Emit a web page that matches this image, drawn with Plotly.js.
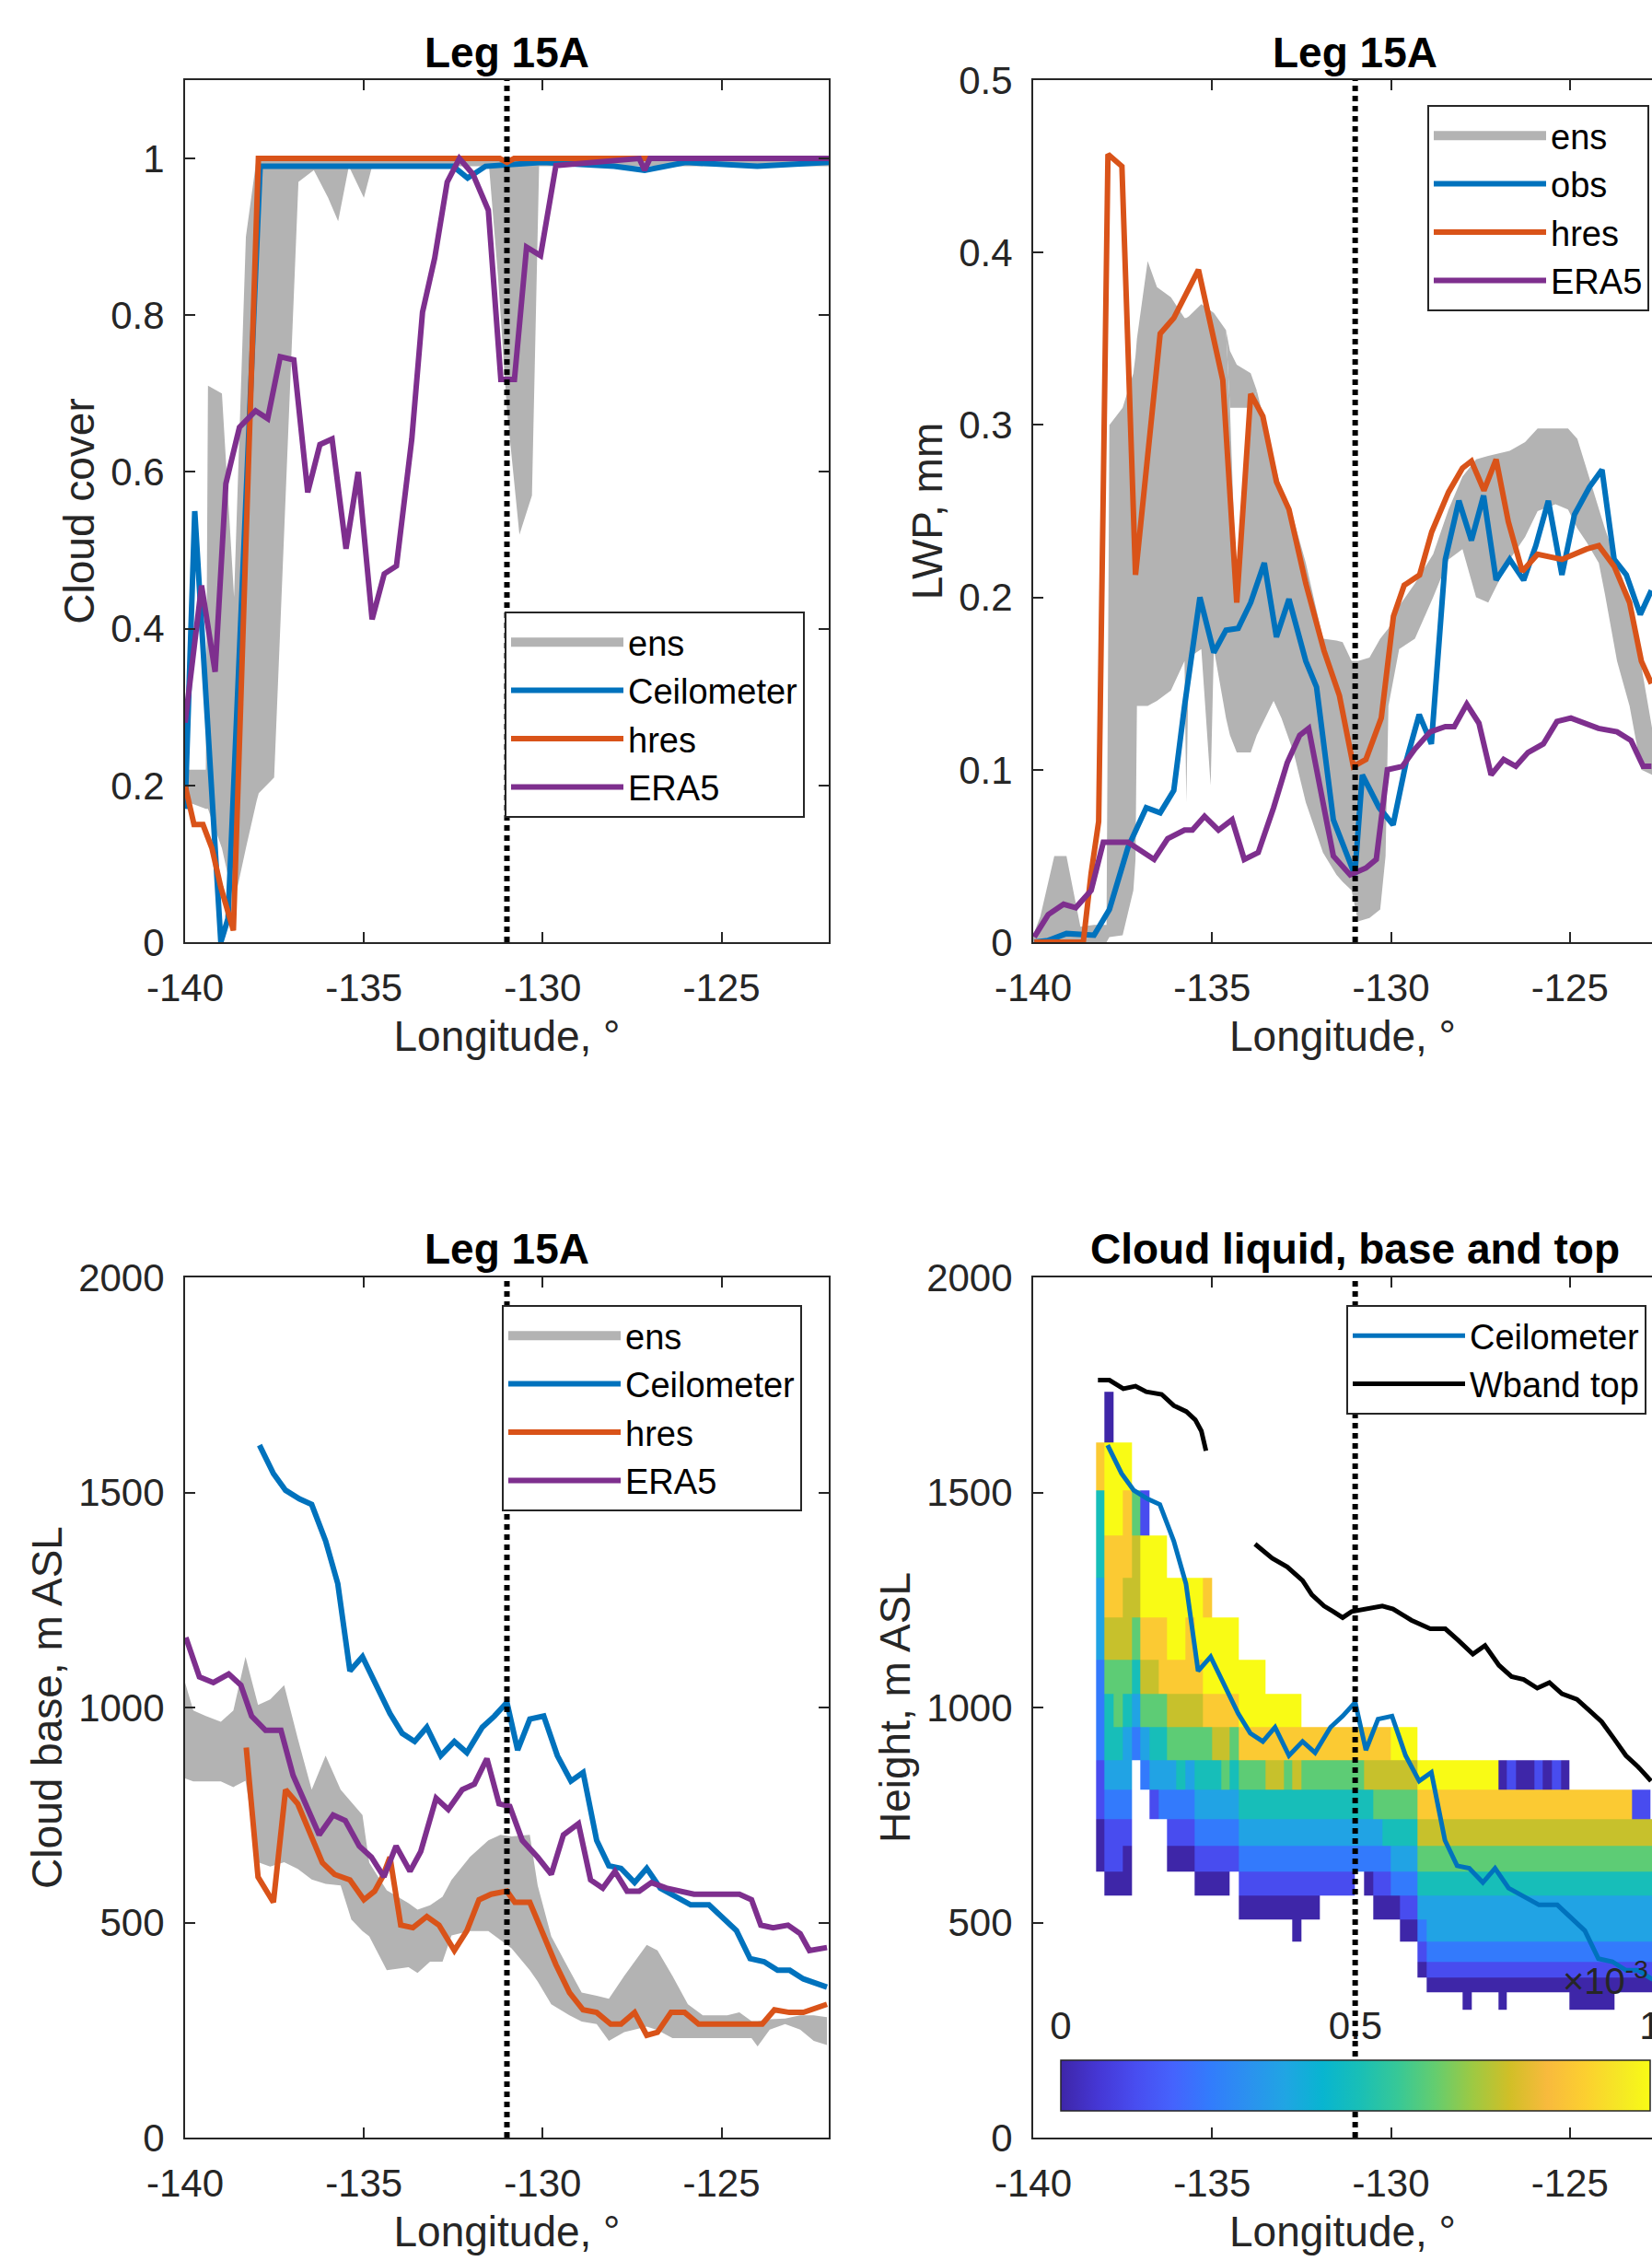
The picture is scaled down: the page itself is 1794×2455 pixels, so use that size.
<!DOCTYPE html>
<html>
<head>
<meta charset="utf-8">
<script src="https://cdn.plot.ly/plotly-3.0.1.min.js"></script>
<style>html,body{margin:0;padding:0;background:#fff;}</style>
</head>
<body>
<div id="chart" style="width:1794px;height:2455px;"></div>
<script>
// ---------------- DATA ----------------
const markerLon = -131;
const lonTicks = [-140, -135, -130, -125];
const lonTickText = ['-140', '-135', '-130', '-125'];

// Panel 1: cloud cover
const ccEnsX = [-140, -139.42, -139.36, -138.97, -138.63, -138.3, -138.0, -137.94, -137.51, -137.17, -136.83, -136.4, -136.0, -135.72, -135.42, -135.0, -134.77, -131.5, -131.25, -131.0, -130.65, -130.3, -130.1, -122];
const ccEnsHi = [0.22, 0.22, 0.71, 0.70, 0.44, 0.9, 1.0, 1.0, 1.0, 1.0, 1.0, 1.0, 1.0, 1.0, 1.0, 1.0, 1.0, 1.0, 1.0, 1.0, 1.0, 1.0, 1.0, 1.0];
const ccEnsLo = [0.18, 0.17, 0.17, 0.12, 0.05, 0.12, 0.18, 0.19, 0.21, 0.59, 0.97, 0.985, 0.95, 0.92, 0.99, 0.95, 0.99, 0.99, 0.85, 0.68, 0.52, 0.57, 0.99, 0.99];
const ccCeilX = [-140, -139.73, -139.0, -138.8, -137.9, -136, -134, -132.5, -132.1, -131.6, -130, -128, -127.15, -126, -124, -122];
const ccCeil = [0.17, 0.55, 0.0, 0.03, 0.99, 0.99, 0.99, 0.99, 0.975, 0.99, 0.995, 0.99, 0.985, 0.995, 0.99, 0.995];
const ccHresX = [-140, -139.75, -139.5, -139.25, -139.0, -138.65, -137.95, -131.2, -131.0, -130.8, -122];
const ccHres = [0.2, 0.15, 0.15, 0.12, 0.07, 0.015, 1.0, 1.0, 0.995, 1.0, 1.0];
const ccEraX = [-140, -139.54, -139.16, -138.86, -138.48, -138.03, -137.69, -137.34, -136.96, -136.57, -136.23, -135.89, -135.5, -135.16, -134.77, -134.43, -134.09, -133.66, -133.36, -133.02, -132.67, -132.33, -131.95, -131.52, -131.17, -130.79, -130.45, -130.06, -129.63, -127.3, -127.15, -127.0, -122];
const ccEra = [0.28, 0.455, 0.345, 0.585, 0.657, 0.678, 0.668, 0.747, 0.743, 0.574, 0.635, 0.642, 0.502, 0.6, 0.412, 0.47, 0.48, 0.642, 0.804, 0.873, 0.97, 1.0, 0.98, 0.934, 0.718, 0.718, 0.887, 0.876, 0.991, 1.0, 0.985, 1.0, 1.0];

// Panel 2: LWP
const lwpEnsX = [-140, -139.8, -139.41, -139.07, -138.68, -138.3, -137.95, -137.87, -137.5, -137.2, -137.14, -137.1, -136.8, -136.54, -136.15, -135.77, -135.72, -135.65, -135.3, -135.04, -134.95, -134.61, -134.5, -134.31, -133.92, -133.75, -133.28, -133.06, -132.72, -132.38, -131.9, -131.52, -131.35, -131.1, -130.92, -130.6, -130.3, -130.15, -130.07, -129.77, -129.33, -128.82, -128.39, -128.0, -127.62, -127.28, -126.68, -126.25, -125.9, -125.4, -125.05, -124.79, -124.53, -124.19, -124.02, -123.68, -123.33, -123.0, -122.7];
const lwpEnsHi = [0.004, 0.015, 0.05, 0.05, 0.009, 0.01, 0.01, 0.3, 0.31, 0.33, 0.34, 0.35, 0.395, 0.38, 0.374, 0.362, 0.362, 0.363, 0.37, 0.366, 0.365, 0.355, 0.31, 0.197, 0.31, 0.32, 0.28, 0.262, 0.245, 0.22, 0.176, 0.175, 0.174, 0.163, 0.163, 0.165, 0.176, 0.18, 0.182, 0.195, 0.208, 0.225, 0.251, 0.27, 0.28, 0.282, 0.285, 0.29, 0.298, 0.298, 0.298, 0.292, 0.274, 0.251, 0.24, 0.22, 0.199, 0.16, 0.124];
const lwpEnsLo = [0, 0, 0, 0, 0, 0, 0, 0.003, 0.004, 0.03, 0.048, 0.137, 0.137, 0.14, 0.146, 0.163, 0.081, 0.165, 0.17, 0.091, 0.17, 0.13, 0.12, 0.11, 0.11, 0.12, 0.14, 0.13, 0.11, 0.081, 0.052, 0.039, 0.035, 0.03, 0.012, 0.014, 0.019, 0.05, 0.137, 0.17, 0.176, 0.2, 0.222, 0.228, 0.2, 0.197, 0.222, 0.235, 0.25, 0.254, 0.251, 0.24, 0.232, 0.22, 0.202, 0.163, 0.137, 0.1, 0.097];
const lwpEnsCapX = [-134.61, -134.5, -134.31, -133.92, -133.75];
const lwpEnsCapHi = [0.355, 0.343, 0.335, 0.33, 0.32];
const lwpEnsCapLo = [0.355, 0.31, 0.31, 0.31, 0.32];
const lwpObsX = [-139.97, -139.58, -139.07, -138.3, -137.87, -137.35, -136.84, -136.45, -136.07, -135.77, -135.34, -134.95, -134.61, -134.27, -133.92, -133.54, -133.2, -132.85, -132.38, -132.08, -131.61, -131.23, -131.01, -130.8, -130.33, -129.94, -129.56, -129.21, -128.87, -128.48, -128.1, -127.75, -127.41, -127.06, -126.68, -126.29, -125.95, -125.6, -125.22, -124.87, -124.45, -124.1, -123.76, -123.42, -123.03, -122.72];
const lwpObs = [0.0, 0.001, 0.005, 0.004, 0.019, 0.055, 0.078, 0.075, 0.088, 0.137, 0.2, 0.168, 0.181, 0.182, 0.197, 0.22, 0.177, 0.199, 0.163, 0.148, 0.071, 0.05, 0.039, 0.097, 0.078, 0.068, 0.106, 0.132, 0.115, 0.222, 0.256, 0.233, 0.259, 0.21, 0.222, 0.21, 0.23, 0.256, 0.213, 0.248, 0.264, 0.274, 0.222, 0.213, 0.19, 0.204];
const lwpHresX = [-139.97, -139.5, -138.6, -138.38, -138.17, -137.91, -137.52, -137.14, -136.45, -136.07, -135.38, -134.7, -134.31, -133.92, -133.58, -133.2, -132.85, -132.38, -131.87, -131.44, -131.05, -130.7, -130.27, -129.93, -129.63, -129.2, -128.86, -128.39, -128.0, -127.75, -127.4, -127.06, -126.72, -126.33, -125.9, -125.22, -124.53, -124.19, -123.76, -123.33, -123.0, -122.72];
const lwpHres = [0.0, 0.0, 0.0, 0.04, 0.07, 0.457, 0.45, 0.213, 0.353, 0.362, 0.39, 0.326, 0.197, 0.318, 0.305, 0.267, 0.251, 0.208, 0.169, 0.143, 0.102, 0.106, 0.13, 0.189, 0.207, 0.213, 0.238, 0.261, 0.275, 0.279, 0.262, 0.28, 0.244, 0.215, 0.225, 0.222, 0.228, 0.23, 0.218, 0.197, 0.163, 0.15];
const lwpEraX = [-139.97, -139.58, -139.15, -138.81, -138.38, -138.04, -137.35, -136.97, -136.62, -136.24, -135.77, -135.55, -135.21, -134.82, -134.44, -134.1, -133.71, -133.28, -132.9, -132.55, -132.3, -131.61, -131.14, -130.7, -130.41, -130.1, -129.68, -129.33, -128.9, -128.48, -128.23, -127.88, -127.54, -127.2, -126.85, -126.51, -126.17, -125.74, -125.36, -124.97, -124.54, -124.2, -123.68, -123.29, -122.95, -122.72];
const lwpEra = [0.003, 0.016, 0.022, 0.02, 0.03, 0.058, 0.058, 0.053, 0.048, 0.06, 0.065, 0.065, 0.073, 0.065, 0.071, 0.048, 0.052, 0.078, 0.104, 0.12, 0.124, 0.05, 0.039, 0.043, 0.048, 0.1, 0.102, 0.112, 0.122, 0.125, 0.125, 0.138, 0.127, 0.097, 0.106, 0.102, 0.11, 0.115, 0.128, 0.13, 0.127, 0.124, 0.122, 0.117, 0.102, 0.102];

// Panel 3: cloud base (m ASL)
const baseEnsX = [-140, -139.77, -139.42, -139.0, -138.65, -138.31, -137.96, -137.62, -137.23, -136.85, -136.46, -136.07, -135.65, -135.35, -135.04, -134.85, -134.36, -133.75, -133.5, -133.15, -132.8, -132.55, -132.04, -131.52, -131.18, -130.87, -130.36, -130.14, -129.76, -129.25, -128.91, -128.49, -128.15, -127.72, -127.09, -126.79, -126.37, -125.94, -125.52, -124.84, -124.5, -124.16, -123.99, -123.65, -123.22, -122.8, -122.42, -122.05];
const baseEnsHi = [1058, 993, 980, 967, 993, 1118, 1006, 1019, 1052, 928, 809, 888, 809, 780, 750, 639, 575, 545, 530, 540, 560, 599, 652, 691, 704, 700, 704, 586, 468, 389, 337, 330, 323, 376, 448, 435, 376, 310, 284, 284, 291, 271, 271, 275, 277, 284, 284, 280];
const baseEnsLo = [835, 828, 828, 828, 815, 830, 640, 630, 640, 625, 600, 590, 586, 507, 480, 468, 389, 396, 383, 409, 409, 470, 480, 480, 460, 440, 389, 363, 310, 284, 270, 264, 225, 245, 258, 250, 231, 231, 231, 231, 231, 231, 212, 251, 264, 251, 225, 215];
const ceilBaseX = [-137.92, -137.53, -137.19, -136.8, -136.46, -136.07, -135.73, -135.39, -135.04, -134.7, -134.27, -133.93, -133.58, -133.24, -132.85, -132.47, -132.12, -131.69, -131.35, -131.0, -130.7, -130.36, -129.97, -129.59, -129.21, -128.87, -128.49, -128.15, -127.81, -127.43, -127.09, -126.71, -126.28, -125.86, -125.35, -124.92, -124.58, -124.2, -123.81, -123.43, -123.09, -122.71, -122.05];
const ceilBase = [1610, 1544, 1505, 1485, 1472, 1387, 1288, 1085, 1118, 1059, 986, 940, 921, 954, 888, 921, 895, 954, 980, 1012, 901, 973, 980, 888, 829, 849, 691, 632, 626, 593, 626, 580, 560, 541, 541, 508, 481, 416, 409, 389, 389, 369, 350];
const hresBaseX = [-138.29, -137.96, -137.53, -137.19, -136.85, -136.5, -136.16, -135.82, -135.39, -135.0, -134.7, -134.48, -134.27, -133.97, -133.63, -133.24, -132.9, -132.47, -132.12, -131.78, -131.44, -131.0, -130.78, -130.36, -130.02, -129.63, -129.25, -128.87, -128.49, -128.1, -127.81, -127.43, -127.09, -126.79, -126.41, -126.03, -125.64, -125.18, -124.67, -124.16, -123.86, -123.52, -123.1, -122.71, -122.05];
const hresBase = [907, 606, 547, 809, 776, 704, 639, 612, 599, 553, 573, 606, 652, 494, 488, 514, 494, 435, 481, 553, 566, 573, 547, 547, 481, 402, 337, 297, 291, 264, 264, 291, 238, 245, 291, 291, 264, 264, 264, 264, 264, 297, 291, 291, 310];
const eraBaseX = [-139.98, -139.6, -139.21, -138.78, -138.44, -138.14, -137.75, -137.32, -136.98, -136.63, -136.25, -135.86, -135.52, -135.13, -134.79, -134.44, -134.1, -133.71, -133.41, -132.98, -132.64, -132.25, -131.91, -131.56, -131.22, -130.92, -130.57, -130.14, -129.76, -129.42, -129.0, -128.66, -128.32, -127.98, -127.64, -127.3, -126.96, -126.54, -126.2, -125.77, -125.35, -124.84, -124.5, -124.16, -123.9, -123.56, -123.14, -122.8, -122.54, -122.05];
const eraBase = [1163, 1071, 1058, 1078, 1052, 980, 947, 947, 842, 776, 704, 750, 737, 678, 652, 606, 678, 619, 665, 789, 763, 809, 822, 881, 776, 770, 691, 652, 612, 704, 730, 599, 580, 619, 573, 573, 593, 580, 573, 566, 566, 566, 566, 553, 494, 488, 494, 474, 435, 442];

// Panel 4: cloud liquid (x1e-3), W-band cloud top
const wbandX = [-138.19, -137.87, -137.48, -137.14, -136.84, -136.41, -136.07, -135.72, -135.47, -135.3, -135.17, -134.5, -133.8, -133.32, -132.9, -132.47, -132.21, -131.87, -131.61, -131.35, -131.1, -130.7, -130.24, -129.94, -129.43, -128.9, -128.48, -128.13, -127.71, -127.37, -126.98, -126.63, -126.29, -125.91, -125.57, -125.22, -124.8, -124.45, -124.11, -123.77, -123.43, -123.09, -122.73];
const wbandTop = [1761, 1761, 1741, 1747, 1734, 1728, 1702, 1688, 1669, 1643, 1597, null, 1380, 1347, 1327, 1295, 1262, 1236, 1223, 1209, 1223, 1229, 1236, 1229, 1203, 1183, 1183, 1157, 1124, 1144, 1098, 1072, 1065, 1045, 1058, 1032, 1019, 993, 967, 928, 888, 862, 829];
const liqLonEdges = [-138.5, -138.25, -138, -137.75, -137.5, -137.25, -137, -136.75, -136.5, -136.25, -136, -135.75, -135.5, -135.25, -135, -134.75, -134.5, -134.25, -134, -133.75, -133.5, -133.25, -133, -132.75, -132.5, -132.25, -132, -131.75, -131.5, -131.25, -131, -130.75, -130.5, -130.25, -130, -129.75, -129.5, -129.25, -129, -128.75, -128.5, -128.25, -128, -127.75, -127.5, -127.25, -127, -126.75, -126.5, -126.25, -126, -125.75, -125.5, -125.25, -125, -124.75, -124.5, -124.25, -124, -123.75, -123.5, -123.25, -123, -122.75, -122.5];
const liqHeightEdges = [297, 337, 372, 409, 455, 507, 562, 619, 678, 740, 809, 877, 954, 1032, 1111, 1209, 1301, 1400, 1505, 1616, 1734];
// one string per longitude column, bottom level first; '.' = no liquid, digit k = colour level k (1 = 0, 9 = 1e-3)
const liqColumns = [
"....................", ".......112233344558.", "......12234556788991", "......1223456678899.",
"......1123445677889.", "...........3456776..", "..........34678992..", ".........24567899...",
".........34568899...", ".......123467899....", ".......123567899....", ".......123467889....",
"......1234567899....", "......1234568998....", "......123457899.....", "......123467899.....",
".......23456899.....", ".....123456899......", ".....123456899......", ".....123456899......",
".....12345789.......", ".....12345789.......", ".....12345689.......", "....112345789.......",
".....1234568........", ".....1234568........", "......234568........", "......234568........",
"......234568........", "......234568........", ".......34568........", "......134578........",
".....1234678........", ".....1235678........", ".....1345679........", "....12345679........",
"....12345679........", "..123456789.........", ".1234456789.........", ".1234456789.........",
".1234456789.........", ".1234456789.........", "11234456789.........", ".1234456789.........",
".1234456789.........", ".1234456789.........", "11234456781.........", ".1234456782.........",
".1234456781.........", ".1234456781.........", ".1234456782.........", ".1234456781.........",
".1234456782.........", ".1234456781.........", "1123445678..........", "1123445678..........",
"1123445678..........", "1123445678..........", "1123445678..........", ".123445678..........",
".123445678..........", ".123445672..........", ".123445672..........", ".12344567..........."
];
const cbTickVals = [0, 0.5, 1];
const cbTickText = ['0', '0.5', '1'];

// ---------------- STYLE ----------------
const FONT = 'Liberation Sans, Arial, Helvetica, sans-serif';
const AXC = '#262626';
const C_BLUE = '#0072BD', C_ORANGE = '#D95319', C_PURPLE = '#7E2F8E', C_GREY = '#B3B3B3';
const LW = 6;
const parula = [
  [0 / 63, '#3e26a8'], [4 / 63, '#4537d5'], [8 / 63, '#484df0'], [12 / 63, '#4563fd'], [16 / 63, '#327cfc'],
  [20 / 63, '#2b91ef'], [24 / 63, '#20a5e3'], [28 / 63, '#08b5d0'], [32 / 63, '#19bfb6'], [36 / 63, '#37c897'],
  [40 / 63, '#64cd6f'], [44 / 63, '#9dc943'], [48 / 63, '#d1bf27'], [52 / 63, '#f8ba3d'], [56 / 63, '#fccf30'],
  [60 / 63, '#f5e924'], [63 / 63, '#f9fb15']];

function band(x, lo, hi) {
  return { x: x.concat(x.slice().reverse()), y: hi.concat(lo.slice().reverse()) };
}
function ensTrace(x, lo, hi, xa, ya) {
  const b = band(x, lo, hi);
  return { type: 'scatter', mode: 'lines', x: b.x, y: b.y, fill: 'toself', fillcolor: C_GREY,
    line: { width: 0, color: C_GREY }, name: 'ens', xaxis: xa, yaxis: ya,
    showlegend: false, hoverinfo: 'skip' };
}
// legend swatch for the ensemble patch (no data points of its own)
function ensKey(xa, ya, leg) {
  return { type: 'scatter', mode: 'lines', x: [null], y: [null], name: 'ens', xaxis: xa, yaxis: ya,
    legend: leg, line: { color: C_GREY, width: 34 }, hoverinfo: 'skip' };
}
function lineTrace(x, y, name, color, xa, ya, leg, w) {
  return { type: 'scatter', mode: 'lines', x: x, y: y, name: name, line: { color: color, width: w || LW },
    xaxis: xa, yaxis: ya, legend: leg, connectgaps: false };
}

// heatmap matrix from column strings
const nLev = liqHeightEdges.length - 1;
const liqZ = [];
for (let r = 0; r < nLev; r++) {
  const row = [];
  for (let c = 0; c < liqColumns.length; c++) {
    const ch = liqColumns[c].charAt(r);
    row.push(ch === '.' || ch === '' ? null : (parseInt(ch, 10) - 1) / 8);
  }
  liqZ.push(row);
}

const traces = [
  ensTrace(ccEnsX, ccEnsLo, ccEnsHi, 'x', 'y'),
  ensKey('x', 'y', 'legend'),
  lineTrace(ccCeilX, ccCeil, 'Ceilometer', C_BLUE, 'x', 'y', 'legend'),
  lineTrace(ccHresX, ccHres, 'hres', C_ORANGE, 'x', 'y', 'legend'),
  lineTrace(ccEraX, ccEra, 'ERA5', C_PURPLE, 'x', 'y', 'legend'),

  ensTrace(lwpEnsX, lwpEnsLo, lwpEnsHi, 'x2', 'y2'),
  ensTrace(lwpEnsCapX, lwpEnsCapLo, lwpEnsCapHi, 'x2', 'y2'),
  ensKey('x2', 'y2', 'legend2'),
  lineTrace(lwpObsX, lwpObs, 'obs', C_BLUE, 'x2', 'y2', 'legend2'),
  lineTrace(lwpHresX, lwpHres, 'hres', C_ORANGE, 'x2', 'y2', 'legend2'),
  lineTrace(lwpEraX, lwpEra, 'ERA5', C_PURPLE, 'x2', 'y2', 'legend2'),

  ensTrace(baseEnsX, baseEnsLo, baseEnsHi, 'x3', 'y3'),
  ensKey('x3', 'y3', 'legend3'),
  lineTrace(ceilBaseX, ceilBase, 'Ceilometer', C_BLUE, 'x3', 'y3', 'legend3'),
  lineTrace(hresBaseX, hresBase, 'hres', C_ORANGE, 'x3', 'y3', 'legend3'),
  lineTrace(eraBaseX, eraBase, 'ERA5', C_PURPLE, 'x3', 'y3', 'legend3'),

  { type: 'heatmap', x: liqLonEdges, y: liqHeightEdges, z: liqZ, xaxis: 'x4', yaxis: 'y4',
    colorscale: parula, zmin: 0, zmax: 1, zsmooth: false, showlegend: false, hoverongaps: false,
    colorbar: { orientation: 'h', x: 1472 / 1794, xanchor: 'center', y: 1 - 2237 / 2455, yanchor: 'top',
      len: 640 / 1794, lenmode: 'fraction', thickness: 55, thicknessmode: 'pixels',
      outlinewidth: 1.5, outlinecolor: AXC, ticks: '', showticklabels: false, xpad: 0, ypad: 0 } },
  lineTrace(ceilBaseX, ceilBase, 'Ceilometer', C_BLUE, 'x4', 'y4', 'legend4', 5),
  lineTrace(wbandX, wbandTop, 'Wband top', '#000000', 'x4', 'y4', 'legend4', 5),

  // invisible anchor so the colour-bar label axis gets drawn
  { type: 'scatter', mode: 'markers', x: cbTickVals, y: [0.5, 0.5, 0.5], xaxis: 'x5', yaxis: 'y5',
    marker: { opacity: 0, size: 1 }, showlegend: false, hoverinfo: 'skip' }
];

const domL = [201 / 1794, 900 / 1794], domR = [1122 / 1794, 1];
const domT = [1 - 1023 / 2455, 1 - 87 / 2455], domB = [1 - 2321 / 2455, 1 - 1387 / 2455];
const cbTop = 1 - 2237 / 2455;

function xAx(dom, anchor, range) {
  return { domain: dom, anchor: anchor, range: range, tickvals: lonTicks, ticktext: lonTickText,
    showline: true, linecolor: AXC, linewidth: 2, mirror: 'ticks', ticks: 'inside', ticklen: 11, tickwidth: 2,
    tickcolor: AXC, showgrid: false, zeroline: false, ticklabelstandoff: 12,
    tickfont: { size: 42, color: AXC, family: FONT },
    title: { text: 'Longitude, °', font: { size: 46, color: AXC, family: FONT }, standoff: 13 } };
}
function yAx(dom, anchor, range, tv, title, mirror) {
  return { domain: dom, anchor: anchor, range: range, tickvals: tv,
    showline: true, linecolor: AXC, linewidth: 2, mirror: mirror, ticks: 'inside', ticklen: 11, tickwidth: 2,
    tickcolor: AXC, showgrid: false, zeroline: false, ticklabelstandoff: 12,
    tickfont: { size: 42, color: AXC, family: FONT },
    title: { text: title, font: { size: 46, color: AXC, family: FONT }, standoff: 3 } };
}
const rightRange = [-140, -140 + 672 / 38.85];

const legBase = { bgcolor: '#ffffff', bordercolor: AXC, borderwidth: 2, font: { size: 38, color: '#000', family: FONT },
  xanchor: 'left', yanchor: 'top', itemwidth: 122, tracegroupgap: 0, traceorder: 'normal' };

function title(text, xc, yc) {
  return { text: '<b>' + text + '</b>', xref: 'paper', yref: 'paper', x: xc, y: yc, xanchor: 'center', yanchor: 'middle',
    showarrow: false, font: { size: 46, color: '#000', family: FONT } };
}
function dotted(xa, ya) {
  return { type: 'line', xref: xa, yref: ya + ' domain', x0: markerLon, x1: markerLon, y0: 0, y1: 1,
    layer: 'above', line: { color: '#000', width: 6, dash: '6px,5px' } };
}

const layout = {
  width: 1794, height: 2455, margin: { l: 0, r: 0, t: 0, b: 0 },
  paper_bgcolor: '#fff', plot_bgcolor: 'rgba(0,0,0,0)', showlegend: true,
  font: { family: FONT, color: AXC },
  xaxis: xAx(domL, 'y', [-140, -122]),
  yaxis: yAx(domT, 'x', [0, 1.1], [0, 0.2, 0.4, 0.6, 0.8, 1], 'Cloud cover', 'ticks'),
  xaxis2: xAx(domR, 'y2', rightRange),
  yaxis2: yAx(domT, 'x2', [0, 0.5], [0, 0.1, 0.2, 0.3, 0.4, 0.5], 'LWP, mm', false),
  xaxis3: xAx(domL, 'y3', [-140, -122]),
  yaxis3: yAx(domB, 'x3', [0, 2000], [0, 500, 1000, 1500, 2000], 'Cloud base, m ASL', 'ticks'),
  xaxis4: xAx(domR, 'y4', rightRange),
  yaxis4: yAx(domB, 'x4', [0, 2000], [0, 500, 1000, 1500, 2000], 'Height, m ASL', false),
  xaxis5: { domain: [1152 / 1794, 1792 / 1794], anchor: 'y5', side: 'top',
    range: [0, 1], tickvals: cbTickVals, ticktext: cbTickText, ticks: '', showline: false, showgrid: false,
    zeroline: false, ticklabelstandoff: 14, ticklabeloverflow: 'allow',
    tickfont: { size: 42, color: AXC, family: FONT }, fixedrange: true },
  yaxis5: { domain: [cbTop - 0.002, cbTop], anchor: 'x5', range: [0, 1], visible: false, fixedrange: true },
  legend: Object.assign({}, legBase, { x: 548 / 1794, y: 1 - 664 / 2455 }),
  legend2: Object.assign({}, legBase, { x: 1550 / 1794, y: 1 - 114 / 2455 }),
  legend3: Object.assign({}, legBase, { x: 545 / 1794, y: 1 - 1417 / 2455 }),
  legend4: Object.assign({}, legBase, { x: 1462 / 1794, y: 1 - 1417 / 2455 }),
  annotations: [
    title('Leg 15A', 550.5 / 1794, 1 - 57 / 2455),
    title('Leg 15A', 1471.5 / 1794, 1 - 57 / 2455),
    title('Leg 15A', 550.5 / 1794, 1 - 1356 / 2455),
    title('Cloud liquid, base and top', 1471.5 / 1794, 1 - 1356 / 2455),
    { text: '×10<sup>-3</sup>', xref: 'paper', yref: 'paper', x: 1695 / 1794, y: 1 - 2148 / 2455,
      xanchor: 'left', yanchor: 'middle', showarrow: false, font: { size: 40, color: AXC, family: FONT } }
  ],
  shapes: [dotted('x', 'y'), dotted('x2', 'y2'), dotted('x3', 'y3'), dotted('x4', 'y4')]
};

Plotly.newPlot('chart', traces, layout, { staticPlot: true, displayModeBar: false });
</script>
</body>
</html>
